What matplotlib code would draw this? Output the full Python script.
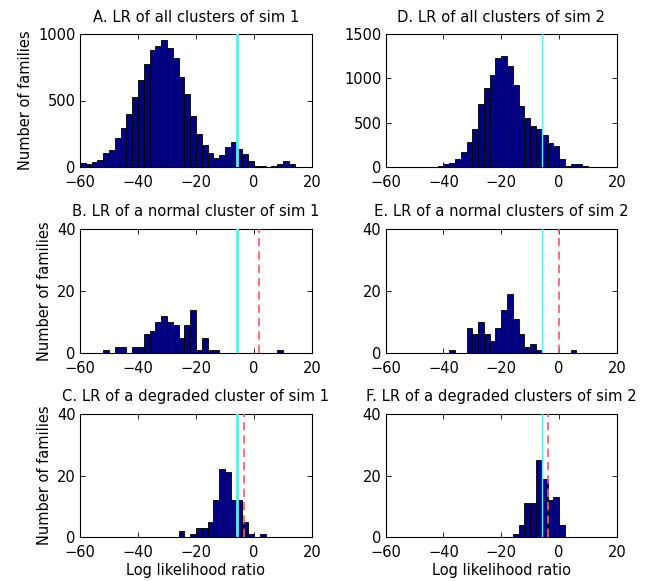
import numpy as np
import matplotlib
matplotlib.use('Agg')
import matplotlib.pyplot as plt

plt.rcParams['font.family'] = ['DejaVu Sans']

# histogram bins: width 2 from -60 to 20
bin_edges = np.arange(-60, 21, 2)
bin_left = bin_edges[:-1]

# A. all clusters, sim 1 (one count per bin)
counts_a = [33, 25, 40, 55, 105, 130, 215, 293, 400, 529,
            657, 777, 877, 912, 952, 897, 820, 679, 549, 381,
            248, 163, 108, 68, 90, 148, 190, 133, 100, 43,
            5, 10, 3, 5, 25, 48, 20, 3, 3, 2]

# D. all clusters, sim 2
counts_d = [0, 0, 0, 0, 0, 0, 1, 3, 5, 15,
            34, 45, 90, 173, 278, 429, 711, 891, 1041, 1226,
            1248, 1143, 925, 692, 553, 459, 432, 365, 271, 233,
            94, 8, 38, 38, 8, 1, 1, 1, 1, 1]

# B. normal cluster, sim 1 (bin start -> count)
b_bins = [-52, -48, -46, -42, -40, -38, -36, -34, -32, -30, -28, -26, -24, -22, -20, -18, -16, -14, 8]
b_counts = [1, 2, 2, 2, 2, 6, 7, 10, 12, 10, 9, 5, 9, 14, 1, 5, 1, 1, 1]

# E. normal cluster, sim 2
e_bins = [-38, -32, -30, -28, -26, -24, -22, -20, -18, -16, -14, -12, -10, -8, 4]
e_counts = [1, 8, 6, 10, 6, 4, 8, 14, 19, 11, 6, 2, 3, 1, 1]

# C. degraded cluster, sim 1
c_bins = [-26, -22, -20, -18, -16, -14, -12, -10, -8, -6, -4, -2, 2]
c_counts = [2, 1, 3, 3, 5, 12, 22, 21, 12, 12, 5, 1, 1]

# F. degraded cluster, sim 2
f_bins = [-16, -14, -12, -10, -8, -6, -4, -2, 0]
f_counts = [1, 4, 11, 11, 25, 19, 12, 13, 4]

threshold = -5.9          # cyan line
red_lines = {'B': 1.7, 'C': -3.6, 'E': 0.0, 'F': -3.8}


def full_counts(bins, counts):
    out = np.zeros(len(bin_left))
    for b, c in zip(bins, counts):
        out[int((b + 60) // 2)] = c
    return out


panels = [
    ('A', 'A. LR of all clusters of sim 1', counts_a, [0, 1000], [0, 500, 1000]),
    ('B', 'B. LR of a normal cluster of sim 1', full_counts(b_bins, b_counts), [0, 40], [0, 20, 40]),
    ('C', 'C. LR of a degraded cluster of sim 1', full_counts(c_bins, c_counts), [0, 40], [0, 20, 40]),
    ('D', 'D. LR of all clusters of sim 2', counts_d, [0, 1500], [0, 500, 1000, 1500]),
    ('E', 'E. LR of a normal clusters of sim 2', full_counts(e_bins, e_counts), [0, 40], [0, 20, 40]),
    ('F', 'F. LR of a degraded clusters of sim 2', full_counts(f_bins, f_counts), [0, 40], [0, 20, 40]),
]

W, H = 650, 581
col_x = [(80, 312), (385.5, 617)]
row_y = [(34, 167), (229, 353), (414, 537)]

fig = plt.figure(figsize=(W / 100, H / 100), dpi=100)

for i, (key, title, counts, ylim, yticks) in enumerate(panels):
    col, row = divmod(i, 3)
    x0, x1 = col_x[col]
    y0, y1 = row_y[row]
    ax = fig.add_axes([x0 / W, 1 - y1 / H, (x1 - x0) / W, (y1 - y0) / H])

    ax.bar(bin_left, counts, width=2, align='edge', color='#000080',
           edgecolor='black', linewidth=0.6, zorder=2)
    lw = 2 if col == 0 else 1
    ax.axvline(threshold, color='#55f0f0', lw=lw, zorder=3)
    if key in red_lines:
        ax.axvline(red_lines[key], color='#ff5a5a', lw=1.2, ls=(0, (5, 3)), zorder=3)

    ax.set_xlim(-60, 20)
    ax.set_ylim(*ylim)
    ax.set_xticks([-60, -40, -20, 0, 20])
    ax.set_yticks(yticks)
    ax.tick_params(direction='in', top=True, right=True, length=3.5, width=0.6,
                   labelsize=10.5)
    ax.tick_params(axis='x', pad=6)
    ax.tick_params(axis='y', pad=3)
    for s in ax.spines.values():
        s.set_linewidth(0.8)
    ax.set_title(title, fontsize=10.6, pad=9)
    if col == 0:
        ax.set_ylabel('Number of families', fontsize=10.5)
    if row == 2:
        ax.set_xlabel('Log likelihood ratio', fontsize=10.5, labelpad=2)

fig.savefig('out.png', dpi=100)
